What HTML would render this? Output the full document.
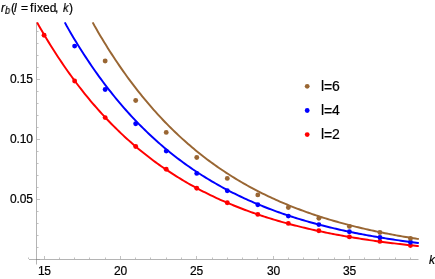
<!DOCTYPE html>
<html><head><meta charset="utf-8"><style>
html,body{margin:0;padding:0;background:#fff;}
body{width:435px;height:279px;position:relative;overflow:hidden;font-family:"Liberation Sans",sans-serif;color:#000;}
.t{position:absolute;white-space:nowrap;line-height:1;will-change:transform;-webkit-text-stroke:0.2px #000;}
.tk{font-size:12px;}
.lg{font-size:14px;}
i{font-style:italic;}
</style></head><body>
<svg width="435" height="279" viewBox="0 0 435 279" style="position:absolute;left:0;top:0">
<g shape-rendering="crispEdges">
<rect x="28" y="258" width="1" height="1" fill="#c2c2c2"/><rect x="28" y="257" width="1" height="1" fill="#dedede"/>
<rect x="44" y="256" width="1" height="3" fill="#c2c2c2"/>
<rect x="59" y="258" width="1" height="1" fill="#c2c2c2"/><rect x="59" y="257" width="1" height="1" fill="#dedede"/>
<rect x="74" y="258" width="1" height="1" fill="#c2c2c2"/><rect x="74" y="257" width="1" height="1" fill="#dedede"/>
<rect x="89" y="258" width="1" height="1" fill="#c2c2c2"/><rect x="89" y="257" width="1" height="1" fill="#dedede"/>
<rect x="105" y="258" width="1" height="1" fill="#c2c2c2"/><rect x="105" y="257" width="1" height="1" fill="#dedede"/>
<rect x="120" y="256" width="1" height="3" fill="#c2c2c2"/>
<rect x="135" y="258" width="1" height="1" fill="#c2c2c2"/><rect x="135" y="257" width="1" height="1" fill="#dedede"/>
<rect x="150" y="258" width="1" height="1" fill="#c2c2c2"/><rect x="150" y="257" width="1" height="1" fill="#dedede"/>
<rect x="166" y="258" width="1" height="1" fill="#c2c2c2"/><rect x="166" y="257" width="1" height="1" fill="#dedede"/>
<rect x="181" y="258" width="1" height="1" fill="#c2c2c2"/><rect x="181" y="257" width="1" height="1" fill="#dedede"/>
<rect x="196" y="256" width="1" height="3" fill="#c2c2c2"/>
<rect x="212" y="258" width="1" height="1" fill="#c2c2c2"/><rect x="212" y="257" width="1" height="1" fill="#dedede"/>
<rect x="227" y="258" width="1" height="1" fill="#c2c2c2"/><rect x="227" y="257" width="1" height="1" fill="#dedede"/>
<rect x="242" y="258" width="1" height="1" fill="#c2c2c2"/><rect x="242" y="257" width="1" height="1" fill="#dedede"/>
<rect x="257" y="258" width="1" height="1" fill="#c2c2c2"/><rect x="257" y="257" width="1" height="1" fill="#dedede"/>
<rect x="273" y="256" width="1" height="3" fill="#c2c2c2"/>
<rect x="288" y="258" width="1" height="1" fill="#c2c2c2"/><rect x="288" y="257" width="1" height="1" fill="#dedede"/>
<rect x="303" y="258" width="1" height="1" fill="#c2c2c2"/><rect x="303" y="257" width="1" height="1" fill="#dedede"/>
<rect x="318" y="258" width="1" height="1" fill="#c2c2c2"/><rect x="318" y="257" width="1" height="1" fill="#dedede"/>
<rect x="334" y="258" width="1" height="1" fill="#c2c2c2"/><rect x="334" y="257" width="1" height="1" fill="#dedede"/>
<rect x="349" y="256" width="1" height="3" fill="#c2c2c2"/>
<rect x="364" y="258" width="1" height="1" fill="#c2c2c2"/><rect x="364" y="257" width="1" height="1" fill="#dedede"/>
<rect x="379" y="258" width="1" height="1" fill="#c2c2c2"/><rect x="379" y="257" width="1" height="1" fill="#dedede"/>
<rect x="395" y="258" width="1" height="1" fill="#c2c2c2"/><rect x="395" y="257" width="1" height="1" fill="#dedede"/>
<rect x="410" y="258" width="1" height="1" fill="#c2c2c2"/><rect x="410" y="257" width="1" height="1" fill="#dedede"/>
<rect x="37" y="259" width="3" height="1" fill="#c2c2c2"/>
<rect x="37" y="247" width="1" height="1" fill="#c2c2c2"/><rect x="38" y="247" width="1" height="1" fill="#dedede"/>
<rect x="37" y="235" width="1" height="1" fill="#c2c2c2"/><rect x="38" y="235" width="1" height="1" fill="#dedede"/>
<rect x="37" y="223" width="1" height="1" fill="#c2c2c2"/><rect x="38" y="223" width="1" height="1" fill="#dedede"/>
<rect x="37" y="211" width="1" height="1" fill="#c2c2c2"/><rect x="38" y="211" width="1" height="1" fill="#dedede"/>
<rect x="37" y="199" width="3" height="1" fill="#c2c2c2"/>
<rect x="37" y="187" width="1" height="1" fill="#c2c2c2"/><rect x="38" y="187" width="1" height="1" fill="#dedede"/>
<rect x="37" y="175" width="1" height="1" fill="#c2c2c2"/><rect x="38" y="175" width="1" height="1" fill="#dedede"/>
<rect x="37" y="163" width="1" height="1" fill="#c2c2c2"/><rect x="38" y="163" width="1" height="1" fill="#dedede"/>
<rect x="37" y="151" width="1" height="1" fill="#c2c2c2"/><rect x="38" y="151" width="1" height="1" fill="#dedede"/>
<rect x="37" y="139" width="3" height="1" fill="#c2c2c2"/>
<rect x="37" y="127" width="1" height="1" fill="#c2c2c2"/><rect x="38" y="127" width="1" height="1" fill="#dedede"/>
<rect x="37" y="115" width="1" height="1" fill="#c2c2c2"/><rect x="38" y="115" width="1" height="1" fill="#dedede"/>
<rect x="37" y="103" width="1" height="1" fill="#c2c2c2"/><rect x="38" y="103" width="1" height="1" fill="#dedede"/>
<rect x="37" y="91" width="1" height="1" fill="#c2c2c2"/><rect x="38" y="91" width="1" height="1" fill="#dedede"/>
<rect x="37" y="79" width="3" height="1" fill="#c2c2c2"/>
<rect x="37" y="67" width="1" height="1" fill="#c2c2c2"/><rect x="38" y="67" width="1" height="1" fill="#dedede"/>
<rect x="37" y="55" width="1" height="1" fill="#c2c2c2"/><rect x="38" y="55" width="1" height="1" fill="#dedede"/>
<rect x="37" y="43" width="1" height="1" fill="#c2c2c2"/><rect x="38" y="43" width="1" height="1" fill="#dedede"/>
<rect x="37" y="31" width="1" height="1" fill="#c2c2c2"/><rect x="38" y="31" width="1" height="1" fill="#dedede"/>
<rect x="36" y="23" width="1" height="241" fill="#b4b4b4"/>
<rect x="36" y="22" width="1" height="1" fill="#d0d0d0"/>
<rect x="36" y="264" width="1" height="1" fill="#dadada"/>
<rect x="29" y="259" width="389" height="1" fill="#b4b4b4"/>
<rect x="418" y="259" width="1" height="1" fill="#dadada"/>
<rect x="36" y="259" width="1" height="1" fill="#8c8c8c"/>
<rect x="37" y="259" width="3" height="1" fill="#a2a2a2"/>
</g>
<polyline points="37.09,22.40 38.90,25.71 40.81,29.04 42.72,32.31 44.63,35.55 46.54,38.73 48.45,41.88 50.36,44.97 52.27,48.03 54.19,51.04 56.10,54.00 58.01,56.93 59.92,59.81 61.83,62.66 63.74,65.46 65.65,68.22 67.56,70.95 69.47,73.63 71.38,76.28 73.29,78.89 75.20,81.46 77.11,84.00 79.02,86.50 80.93,88.96 82.84,91.39 84.75,93.78 86.66,96.15 88.57,98.47 90.48,100.77 92.39,103.03 94.31,105.26 96.22,107.46 98.13,109.62 100.04,111.76 101.95,113.86 103.86,115.94 105.77,117.99 107.68,120.00 109.59,121.99 111.50,123.95 113.41,125.89 115.32,127.79 117.23,129.67 119.14,131.52 121.05,133.34 122.96,135.14 124.87,136.92 126.78,138.67 128.69,140.39 130.60,142.09 132.51,143.76 134.43,145.41 136.34,147.04 138.25,148.65 140.16,150.23 142.07,151.79 143.98,153.32 145.89,154.84 147.80,156.33 149.71,157.80 151.62,159.25 153.53,160.69 155.44,162.10 157.35,163.49 159.26,164.86 161.17,166.21 163.08,167.54 164.99,168.85 166.90,170.15 168.81,171.42 170.72,172.68 172.63,173.92 174.55,175.14 176.46,176.34 178.37,177.53 180.28,178.70 182.19,179.86 184.10,180.99 186.01,182.12 187.92,183.22 189.83,184.31 191.74,185.38 193.65,186.44 195.56,187.49 197.47,188.51 199.38,189.53 201.29,190.53 203.20,191.51 205.11,192.49 207.02,193.44 208.93,194.39 210.84,195.32 212.75,196.23 214.67,197.14 216.58,198.03 218.49,198.91 220.40,199.77 222.31,200.63 224.22,201.47 226.13,202.30 228.04,203.12 229.95,203.92 231.86,204.72 233.77,205.50 235.68,206.27 237.59,207.03 239.50,207.78 241.41,208.52 243.32,209.25 245.23,209.97 247.14,210.68 249.05,211.38 250.96,212.06 252.88,212.74 254.79,213.41 256.70,214.07 258.61,214.72 260.52,215.36 262.43,215.99 264.34,216.61 266.25,217.23 268.16,217.83 270.07,218.43 271.98,219.02 273.89,219.59 275.80,220.17 277.71,220.73 279.62,221.28 281.53,221.83 283.44,222.37 285.35,222.90 287.26,223.42 289.17,223.94 291.08,224.45 293.00,224.95 294.91,225.44 296.82,225.93 298.73,226.41 300.64,226.88 302.55,227.35 304.46,227.81 306.37,228.26 308.28,228.71 310.19,229.15 312.10,229.59 314.01,230.01 315.92,230.44 317.83,230.85 319.74,231.26 321.65,231.67 323.56,232.06 325.47,232.46 327.38,232.84 329.29,233.23 331.20,233.60 333.12,233.97 335.03,234.34 336.94,234.70 338.85,235.05 340.76,235.40 342.67,235.75 344.58,236.09 346.49,236.42 348.40,236.75 350.31,237.08 352.22,237.40 354.13,237.72 356.04,238.03 357.95,238.33 359.86,238.64 361.77,238.94 363.68,239.23 365.59,239.52 367.50,239.81 369.41,240.09 371.32,240.37 373.24,240.64 375.15,240.91 377.06,241.18 378.97,241.44 380.88,241.70 382.79,241.95 384.70,242.20 386.61,242.45 388.52,242.69 390.43,242.93 392.34,243.17 394.25,243.40 396.16,243.63 398.07,243.86 399.98,244.08 401.89,244.31 403.80,244.52 405.71,244.74 407.62,244.95 409.53,245.16 411.44,245.36 413.36,245.56 415.27,245.76 417.18,245.96 418.80,246.12" fill="none" stroke="#ff0000" stroke-width="1.95" stroke-linejoin="round"/>
<polyline points="64.79,22.40 66.60,25.79 68.51,29.13 70.42,32.43 72.33,35.68 74.25,38.88 76.16,42.04 78.07,45.15 79.98,48.21 81.89,51.24 83.80,54.22 85.71,57.15 87.62,60.05 89.53,62.90 91.44,65.72 93.35,68.49 95.26,71.22 97.17,73.92 99.08,76.57 100.99,79.19 102.90,81.77 104.81,84.31 106.72,86.82 108.63,89.29 110.54,91.72 112.45,94.12 114.37,96.49 116.28,98.82 118.19,101.12 120.10,103.38 122.01,105.62 123.92,107.82 125.83,109.99 127.74,112.13 129.65,114.24 131.56,116.31 133.47,118.36 135.38,120.38 137.29,122.37 139.20,124.33 141.11,126.27 143.02,128.17 144.93,130.05 146.84,131.90 148.75,133.73 150.66,135.53 152.57,137.30 154.49,139.05 156.40,140.77 158.31,142.47 160.22,144.14 162.13,145.79 164.04,147.42 165.95,149.02 167.86,150.60 169.77,152.16 171.68,153.69 173.59,155.21 175.50,156.70 177.41,158.17 179.32,159.62 181.23,161.05 183.14,162.46 185.05,163.84 186.96,165.21 188.87,166.56 190.78,167.89 192.69,169.20 194.61,170.49 196.52,171.76 198.43,173.02 200.34,174.25 202.25,175.47 204.16,176.67 206.07,177.86 207.98,179.02 209.89,180.18 211.80,181.31 213.71,182.43 215.62,183.53 217.53,184.62 219.44,185.69 221.35,186.74 223.26,187.78 225.17,188.81 227.08,189.82 228.99,190.81 230.90,191.79 232.82,192.76 234.73,193.72 236.64,194.66 238.55,195.58 240.46,196.50 242.37,197.40 244.28,198.29 246.19,199.16 248.10,200.02 250.01,200.87 251.92,201.71 253.83,202.54 255.74,203.35 257.65,204.15 259.56,204.94 261.47,205.72 263.38,206.49 265.29,207.25 267.20,208.00 269.11,208.73 271.02,209.46 272.94,210.17 274.85,210.88 276.76,211.57 278.67,212.26 280.58,212.93 282.49,213.60 284.40,214.25 286.31,214.90 288.22,215.53 290.13,216.16 292.04,216.78 293.95,217.39 295.86,217.99 297.77,218.59 299.68,219.17 301.59,219.75 303.50,220.31 305.41,220.87 307.32,221.42 309.23,221.97 311.14,222.50 313.06,223.03 314.97,223.55 316.88,224.07 318.79,224.57 320.70,225.07 322.61,225.56 324.52,226.05 326.43,226.52 328.34,226.99 330.25,227.46 332.16,227.92 334.07,228.37 335.98,228.81 337.89,229.25 339.80,229.68 341.71,230.11 343.62,230.52 345.53,230.94 347.44,231.35 349.35,231.75 351.26,232.14 353.18,232.53 355.09,232.92 357.00,233.30 358.91,233.67 360.82,234.04 362.73,234.40 364.64,234.76 366.55,235.11 368.46,235.46 370.37,235.80 372.28,236.14 374.19,236.47 376.10,236.80 378.01,237.13 379.92,237.44 381.83,237.76 383.74,238.07 385.65,238.37 387.56,238.67 389.47,238.97 391.38,239.26 393.30,239.55 395.21,239.84 397.12,240.12 399.03,240.39 400.94,240.66 402.85,240.93 404.76,241.20 406.67,241.46 408.58,241.71 410.49,241.97 412.40,242.22 414.31,242.46 416.22,242.71 418.13,242.94 418.80,243.03" fill="none" stroke="#0000ff" stroke-width="1.95" stroke-linejoin="round"/>
<polyline points="92.68,22.40 94.50,25.76 96.41,29.10 98.32,32.39 100.23,35.63 102.14,38.83 104.05,41.98 105.96,45.09 107.87,48.15 109.78,51.16 111.69,54.14 113.60,57.07 115.51,59.96 117.42,62.81 119.33,65.62 121.24,68.38 123.15,71.11 125.06,73.80 126.97,76.45 128.89,79.07 130.80,81.64 132.71,84.18 134.62,86.68 136.53,89.15 138.44,91.58 140.35,93.98 142.26,96.34 144.17,98.67 146.08,100.97 147.99,103.23 149.90,105.46 151.81,107.66 153.72,109.83 155.63,111.96 157.54,114.07 159.45,116.15 161.36,118.19 163.27,120.21 165.18,122.20 167.09,124.16 169.01,126.09 170.92,127.99 172.83,129.87 174.74,131.72 176.65,133.54 178.56,135.34 180.47,137.11 182.38,138.86 184.29,140.58 186.20,142.28 188.11,143.95 190.02,145.60 191.93,147.23 193.84,148.83 195.75,150.41 197.66,151.96 199.57,153.50 201.48,155.01 203.39,156.50 205.30,157.97 207.21,159.42 209.13,160.85 211.04,162.26 212.95,163.64 214.86,165.01 216.77,166.36 218.68,167.69 220.59,169.00 222.50,170.29 224.41,171.56 226.32,172.82 228.23,174.05 230.14,175.27 232.05,176.48 233.96,177.66 235.87,178.83 237.78,179.98 239.69,181.11 241.60,182.23 243.51,183.33 245.42,184.42 247.33,185.49 249.25,186.55 251.16,187.59 253.07,188.61 254.98,189.62 256.89,190.62 258.80,191.60 260.71,192.57 262.62,193.53 264.53,194.47 266.44,195.39 268.35,196.31 270.26,197.21 272.17,198.10 274.08,198.97 275.99,199.84 277.90,200.69 279.81,201.53 281.72,202.35 283.63,203.17 285.54,203.97 287.45,204.76 289.37,205.54 291.28,206.31 293.19,207.07 295.10,207.82 297.01,208.55 298.92,209.28 300.83,210.00 302.74,210.70 304.65,211.40 306.56,212.08 308.47,212.76 310.38,213.43 312.29,214.08 314.20,214.73 316.11,215.37 318.02,216.00 319.93,216.62 321.84,217.23 323.75,217.83 325.66,218.42 327.57,219.01 329.49,219.59 331.40,220.15 333.31,220.72 335.22,221.27 337.13,221.81 339.04,222.35 340.95,222.88 342.86,223.40 344.77,223.91 346.68,224.42 348.59,224.92 350.50,225.41 352.41,225.90 354.32,226.38 356.23,226.85 358.14,227.31 360.05,227.77 361.96,228.22 363.87,228.67 365.78,229.11 367.69,229.54 369.61,229.97 371.52,230.39 373.43,230.80 375.34,231.21 377.25,231.61 379.16,232.01 381.07,232.40 382.98,232.79 384.89,233.17 386.80,233.54 388.71,233.91 390.62,234.28 392.53,234.63 394.44,234.99 396.35,235.34 398.26,235.68 400.17,236.02 402.08,236.35 403.99,236.68 405.90,237.01 407.81,237.33 409.73,237.64 411.64,237.95 413.55,238.26 415.46,238.56 417.37,238.86 418.80,239.08" fill="none" stroke="#996633" stroke-width="1.95" stroke-linejoin="round"/>
<circle cx="44.10" cy="35.30" r="2.45" fill="#ff0000"/>
<circle cx="74.63" cy="81.00" r="2.45" fill="#ff0000"/>
<circle cx="105.16" cy="117.60" r="2.45" fill="#ff0000"/>
<circle cx="135.69" cy="146.50" r="2.45" fill="#ff0000"/>
<circle cx="166.22" cy="169.20" r="2.45" fill="#ff0000"/>
<circle cx="196.75" cy="188.30" r="2.45" fill="#ff0000"/>
<circle cx="227.28" cy="202.70" r="2.45" fill="#ff0000"/>
<circle cx="257.81" cy="214.40" r="2.45" fill="#ff0000"/>
<circle cx="288.34" cy="223.40" r="2.45" fill="#ff0000"/>
<circle cx="318.87" cy="230.80" r="2.45" fill="#ff0000"/>
<circle cx="349.40" cy="236.90" r="2.45" fill="#ff0000"/>
<circle cx="379.93" cy="241.40" r="2.45" fill="#ff0000"/>
<circle cx="410.46" cy="245.60" r="2.45" fill="#ff0000"/>
<circle cx="74.63" cy="46.10" r="2.45" fill="#0000ff"/>
<circle cx="105.16" cy="89.50" r="2.45" fill="#0000ff"/>
<circle cx="135.69" cy="123.80" r="2.45" fill="#0000ff"/>
<circle cx="166.22" cy="151.10" r="2.45" fill="#0000ff"/>
<circle cx="196.75" cy="173.40" r="2.45" fill="#0000ff"/>
<circle cx="227.28" cy="190.70" r="2.45" fill="#0000ff"/>
<circle cx="257.81" cy="204.70" r="2.45" fill="#0000ff"/>
<circle cx="288.34" cy="216.10" r="2.45" fill="#0000ff"/>
<circle cx="318.87" cy="224.60" r="2.45" fill="#0000ff"/>
<circle cx="349.40" cy="231.80" r="2.45" fill="#0000ff"/>
<circle cx="379.93" cy="237.50" r="2.45" fill="#0000ff"/>
<circle cx="410.46" cy="242.30" r="2.45" fill="#0000ff"/>
<circle cx="105.16" cy="61.00" r="2.45" fill="#996633"/>
<circle cx="135.69" cy="100.50" r="2.45" fill="#996633"/>
<circle cx="166.22" cy="132.40" r="2.45" fill="#996633"/>
<circle cx="196.75" cy="157.50" r="2.45" fill="#996633"/>
<circle cx="227.28" cy="178.40" r="2.45" fill="#996633"/>
<circle cx="257.81" cy="194.90" r="2.45" fill="#996633"/>
<circle cx="288.34" cy="207.50" r="2.45" fill="#996633"/>
<circle cx="318.87" cy="218.20" r="2.45" fill="#996633"/>
<circle cx="349.40" cy="226.40" r="2.45" fill="#996633"/>
<circle cx="379.93" cy="232.50" r="2.45" fill="#996633"/>
<circle cx="410.46" cy="238.40" r="2.45" fill="#996633"/>
<circle cx="307.2" cy="86.3" r="2.4" fill="#996633"/>
<circle cx="307.2" cy="110.5" r="2.4" fill="#0000ff"/>
<circle cx="307.2" cy="134.6" r="2.4" fill="#ff0000"/>
</svg>
<div class="t tk" style="left:1.05px;top:1.7px;"><i>r</i></div>
<div class="t" style="left:5.0px;top:6.35px;font-size:10px;transform:scaleX(.9);transform-origin:0 0;"><i>b</i></div>
<div class="t tk" style="left:10.55px;top:1.7px;">(</div>
<div class="t tk" style="left:14.2px;top:1.7px;"><i>l</i></div>
<div class="t tk" style="left:20.7px;top:2.1px;">=</div>
<div class="t tk" style="left:30.4px;top:1.7px;">f</div><div class="t tk" style="left:34.15px;top:1.7px;">i</div><div class="t tk" style="left:36.8px;top:1.7px;">xed</div>
<div class="t tk" style="left:54.9px;top:1.7px;">,</div>
<div class="t tk" style="left:62.5px;top:1.7px;transform:scaleX(.92);transform-origin:0 0;"><i>k</i></div>
<div class="t tk" style="left:68.7px;top:1.7px;">)</div>
<div class="t tk" style="left:10.0px;top:73.45px;letter-spacing:-0.17px">0.15</div>
<div class="t tk" style="left:10.0px;top:133.45px;letter-spacing:-0.17px">0.10</div>
<div class="t tk" style="left:10.0px;top:193.45px;letter-spacing:-0.17px">0.05</div>
<div class="t tk" style="left:37.8px;top:264.75px;letter-spacing:-0.5px">15</div>
<div class="t tk" style="left:113.6px;top:264.75px;letter-spacing:-0.2px">20</div>
<div class="t tk" style="left:189.9px;top:264.75px;letter-spacing:-0.2px">25</div>
<div class="t tk" style="left:266.7px;top:264.75px;letter-spacing:-0.2px">30</div>
<div class="t tk" style="left:342.6px;top:264.75px;letter-spacing:-0.2px">35</div>
<div class="t tk" style="left:429.2px;top:253.6px;"><i>k</i></div>
<div class="t lg" style="left:320.6px;top:78.6px;">l</div><div class="t lg" style="left:323.6px;top:79.55px;">=</div><div class="t lg" style="left:332.0px;top:78.6px;">6</div>
<div class="t lg" style="left:320.6px;top:102.8px;">l</div><div class="t lg" style="left:323.6px;top:103.75px;">=</div><div class="t lg" style="left:332.0px;top:102.8px;">4</div>
<div class="t lg" style="left:320.6px;top:126.9px;">l</div><div class="t lg" style="left:323.6px;top:127.85px;">=</div><div class="t lg" style="left:332.0px;top:126.9px;">2</div>
</body></html>
